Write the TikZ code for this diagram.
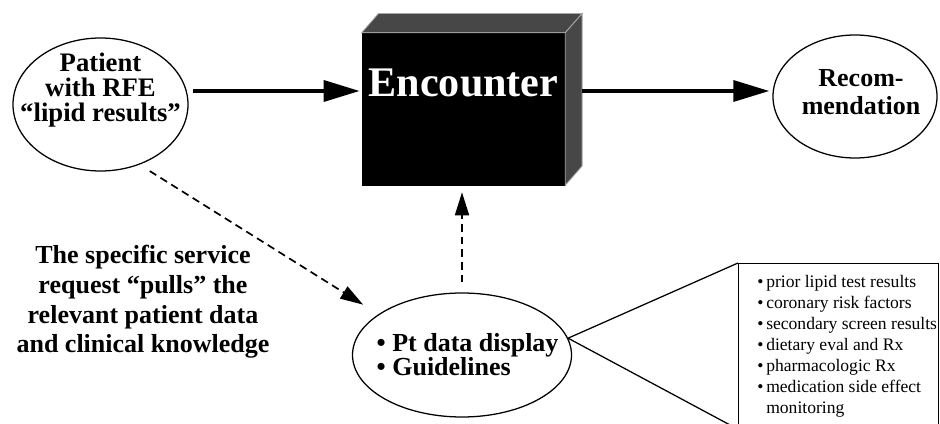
\documentclass[tikz,border=0pt]{standalone}
\usepackage{fontspec}
\setmainfont{Liberation Serif}
\usetikzlibrary{arrows.meta,positioning,calc,shapes.geometric}

\begin{document}
\begin{tikzpicture}[
    bubble/.style={ellipse, draw=black, line width=0.9pt, inner sep=0pt},
    bubbletext/.style={align=center, font=\fontsize{18.5}{#1}\selectfont\bfseries},
    bubbletext/.default=17.8,
    cube/.style={rectangle, draw=black, fill=black, inner sep=0pt,
                minimum width=50.75mm, minimum height=38mm},
    cubeside/.style={draw=black!35, fill=black!72, line width=0.6pt},
    notebox/.style={rectangle, draw=black, line width=0.9pt, inner sep=0pt,
                anchor=north west, minimum width=50mm, minimum height=41.25mm},
    notetext/.style={anchor=north west, inner sep=0pt,
                font=\fontsize{12.5}{15}\selectfont},
    arr/.style={-{Triangle[length=9mm, width=5.2mm]}, line width=2.85pt},
    darr/.style={-{Triangle[length=5.75mm, width=3.5mm]}, line width=1.2pt,
                dash pattern=on 5.5pt off 3.5pt},
    callout/.style={draw=black, line width=0.9pt},
]
\clip (0,0) rectangle (23.5,10.6);

% --- Encounter block ---
\node[cube] (enc) at (11.5875,7.875) {};
\draw[cubeside] (enc.north west) -- ++(0.42,0.48)
  -- ($(enc.north east)+(0.42,0.48)$) -- (enc.north east) -- cycle;
\draw[cubeside] (enc.north east) -- ++(0.42,0.48)
  -- ($(enc.south east)+(0.42,0.48)$) -- (enc.south east) -- cycle;
\node[font=\fontsize{30}{30}\selectfont\bfseries, text=white]
  (enclbl) at ([yshift=6.6mm]enc.center) {Encounter};

% --- Patient and Recommendation ---
\node[bubble, minimum width=43.75mm, minimum height=33.25mm] (patient) at (2.5125,7.9875) {};
\node[bubbletext, font=\fontsize{19}{17.8}\selectfont\bfseries]
  (patientlbl) at ([yshift=3.7mm]patient.center) {Patient\\with RFE\\“lipid results”};
\node[bubble, minimum width=41mm, minimum height=30.75mm] (recom) at (21.375,8.1875) {};
\node[bubbletext=20] (recomlbl) at ([xshift=1.5mm,yshift=1.1mm]recom.center) {Recom-\\mendation};

% --- Pt data / Guidelines ---
\node[bubble, minimum width=54.75mm, minimum height=31mm] (guide) at (11.55,1.725) {};
\node[bubbletext=17, align=left] (guidelbl) at ([xshift=1.4mm]guide.center)
  {• Pt data display\\• Guidelines};

% --- Side note ---
\node[bubbletext=21.1] (pulltxt) at (3.575,3.05)
  {The specific service\\request “pulls” the\\relevant patient data\\and clinical knowledge};

% --- Main flow ---
\coordinate (encin) at ([yshift=4.5mm]enc.west);
\coordinate (encout) at ([xshift=4.2mm,yshift=4.5mm]enc.east);
\draw[arr, shorten <=1mm, shorten >=0.5mm] (patient.east |- encin) -- (encin);
\draw[arr, shorten >=0.75mm] (encout) -- (recom.west |- encout);

% --- Pulled data ---
\draw[darr, shorten <=3mm, shorten >=4.5mm] (patient.-57) -- (guide.154);
\draw[darr, shorten <=2.5mm, shorten >=1.75mm] (guide.north) -- (guide.north |- enc.south);

% --- Callout list ---
\coordinate (tip) at (guide.9);
\node[notebox] (notes) at (18.45,4.025) {};
\draw[callout] (tip) -- (notes.north west);
\draw[callout] (tip) -- (notes.south west);
\node[notetext] (notelist) at ([xshift=4.75mm,yshift=-2.25mm]notes.north west) {%
  \begin{tabular}{@{}l@{\hspace{2pt}}l@{}}
    • & prior lipid test results\\
    • & coronary risk factors\\
    • & secondary screen results\\
    • & dietary eval and Rx\\
    • & pharmacologic Rx\\
    • & medication side effect\\
      & monitoring
  \end{tabular}};

\end{tikzpicture}
\end{document}
